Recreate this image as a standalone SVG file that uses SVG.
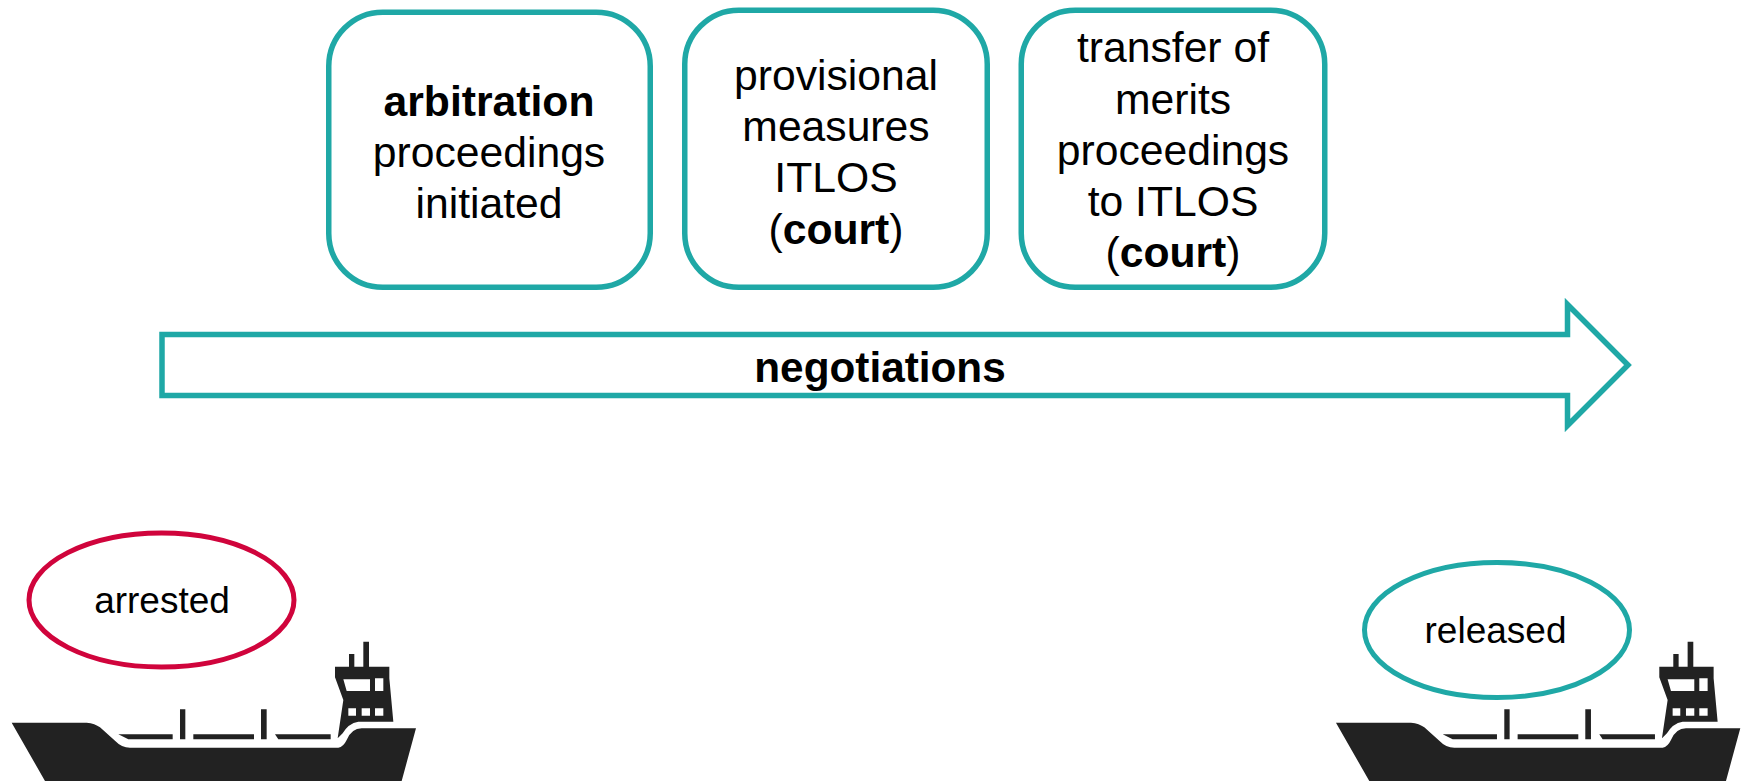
<svg xmlns="http://www.w3.org/2000/svg" width="1745" height="781" viewBox="0 0 1745 781">
<style>
.b{fill:#fff;stroke:#1fa8a6;stroke-width:5.500}
text{font-family:"Liberation Sans",Arial,sans-serif;fill:#000;text-anchor:middle}
.t{font-size:42.67px}
.s{font-size:37px}
.h{font-weight:700}
</style>
<defs>
<g id="ship">
<path fill="#222" d="M35,308 L260,308 Q285,310 300,322 L345,362 Q365,383 390,383 L1015,383 Q1030,381 1040,360 Q1055,325 1085,325 L1248,325 L1205,483 L135,483 Z"/>
<path fill="#222" d="M355,343 H518 V358 H385 Z M580,343 H762 V358 H580 Z M825,343 H992 V358 H835 Z M540,268 H556 V358 H540 Z M783,268 H800 V358 H783 Z"/>
<path fill="#222" fill-rule="evenodd" d="M1047,140 V102 H1063 V140 H1090 V65 H1107 V140 H1168 V175 L1180,305 H1075 Q1045,310 1028,340 L1013,355 L1030,240 L1005,172 V140 Z M1030,178 L1040,213 H1110 V178 Z M1125,175 V213 H1150 V175 Z M1045,265 V287 H1068 V265 Z M1085,265 V287 H1110 V265 Z M1125,265 V287 H1150 V265 Z"/>
</g>
</defs>
<g id="connectors"></g>
<g id="box-arbitration">
<rect class="b" x="328.750" y="12.250" width="321.500" height="275" rx="54"/>
<text class="t" x="489" y="116"><tspan class="h">arbitration</tspan></text>
<text class="t" x="489" y="167">proceedings</text>
<text class="t" x="489" y="218">initiated</text>
</g>
<g id="box-provisional">
<rect class="b" x="684.750" y="10.250" width="302.500" height="277" rx="54"/>
<text class="t" x="836" y="90">provisional</text>
<text class="t" x="836" y="141">measures</text>
<text class="t" x="836" y="192">ITLOS</text>
<text class="t" x="836" y="244">(<tspan class="h">court</tspan>)</text>
</g>
<g id="box-transfer">
<rect class="b" x="1021.250" y="10.250" width="303.500" height="277" rx="54"/>
<text class="t" x="1173" y="62">transfer of</text>
<text class="t" x="1173" y="113.500">merits</text>
<text class="t" x="1173" y="164.500">proceedings</text>
<text class="t" x="1173" y="216">to ITLOS</text>
<text class="t" x="1173" y="267">(<tspan class="h">court</tspan>)</text>
</g>
<g id="negotiations">
<path class="b" d="M162,334.500 H1567.500 V304.500 L1628,365 L1567.500,425.500 V395.500 H162 Z"/>
<text class="h" font-size="42.300" x="880" y="382">negotiations</text>
</g>
<g id="ship-arrested">
<use href="#ship" transform="translate(0,620) scale(0.33333)"/>
<ellipse cx="161.500" cy="600" rx="132.500" ry="67" fill="#fff" stroke="#d0043c" stroke-width="5"/>
<text class="s" x="162" y="613">arrested</text>
</g>
<g id="ship-released">
<use href="#ship" transform="translate(1324.300,620) scale(0.33333)"/>
<ellipse cx="1497" cy="630" rx="132.500" ry="67.500" fill="#fff" stroke="#1fa8a6" stroke-width="5"/>
<text class="s" x="1495.500" y="643">released</text>
</g>
</svg>
